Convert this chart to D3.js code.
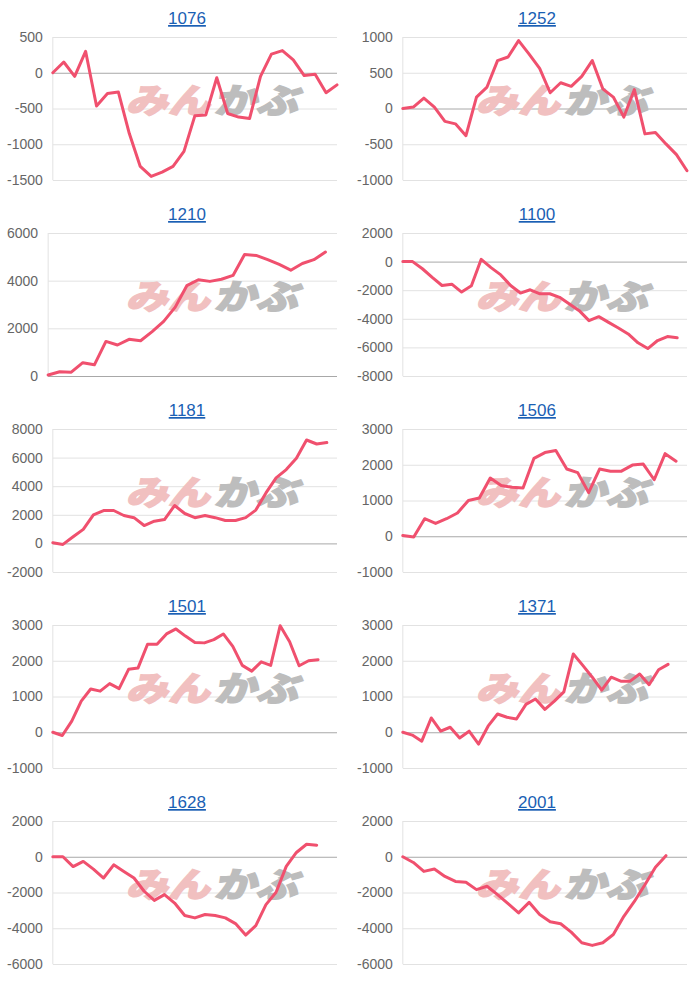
<!DOCTYPE html>
<html><head><meta charset="utf-8">
<script src="https://cdn.jsdelivr.net/npm/d3@7"></script>
<style>
html,body{margin:0;padding:0;background:#fff;}
svg{display:block;}
</style></head>
<body>
<svg id="chart" width="700" height="981"></svg>
<script>
// ---- data ----
const codes = ["1076","1252","1210","1100","1181","1506","1501","1371","1628","2001"];
const labelCounts = [27, 28, 26, 30, 29, 27, 31, 31, 29, 28];

const s1076 = [0,150,-50,300,-465,-290,-270,-850,-1310,-1450,-1390,-1310,-1100,-600,-590,-70,-570,-620,-640,-50,260,310,180,-40,-20,-280,-170];
const s1252 = [0,20,145,20,-180,-215,-380,160,300,670,720,950,760,560,220,360,310,450,670,275,160,-120,265,-355,-335,-495,-645,-870];
const s1210 = [40,180,160,560,470,1450,1300,1540,1480,1860,2290,2890,3790,4040,3970,4060,4220,5100,5060,4880,4680,4440,4720,4880,5200];
const s1100 = [0,0,-500,-1100,-1670,-1580,-2130,-1690,160,-420,-930,-1670,-2200,-1970,-2250,-2250,-2500,-2970,-3430,-4130,-3850,-4250,-4640,-5060,-5680,-6080,-5520,-5240,-5330];
const s1181 = [50,-70,460,980,2000,2300,2300,1950,1800,1250,1550,1670,2650,2090,1800,1950,1800,1600,1600,1800,2330,3530,4580,5160,5950,7230,6950,7050];
const s1506 = [20,-20,490,360,490,650,1000,1070,1630,1420,1370,1350,2180,2340,2400,1880,1780,1220,1880,1820,1820,1990,2020,1580,2310,2100];
const s1501 = [0,-90,310,870,1210,1150,1360,1220,1760,1800,2460,2460,2750,2890,2690,2510,2500,2590,2750,2400,1870,1710,1970,1870,2980,2530,1860,2000,2030];
const s1371 = [0,-80,-250,400,30,140,-160,30,-330,170,510,420,370,780,930,640,870,1130,2190,1870,1540,1180,1540,1430,1430,1630,1330,1750,1900];
const s1628 = [0,0,-550,-260,-690,-1190,-450,-820,-1190,-1930,-2440,-2120,-2590,-3290,-3420,-3230,-3290,-3420,-3740,-4380,-3850,-2680,-1990,-540,240,700,650];
const s2001 = [0,-320,-820,-690,-1100,-1380,-1430,-1840,-1650,-2120,-2620,-3140,-2550,-3230,-3640,-3750,-4220,-4810,-4960,-4810,-4350,-3330,-2500,-1570,-590,60];

const t1076 = [-1500,-1000,-500,0,500];
const t1252 = [-1000,-500,0,500,1000];
const t1210 = [0,2000,4000,6000];
const t1100 = [-8000,-6000,-4000,-2000,0,2000];
const t1181 = [-2000,0,2000,4000,6000,8000];
const t1506 = [-1000,0,1000,2000,3000];
const t1501 = [-1000,0,1000,2000,3000];
const t1371 = [-1000,0,1000,2000,3000];
const t1628 = [-6000,-4000,-2000,0,2000];
const t2001 = [-6000,-4000,-2000,0,2000];

const seriesList = [s1076,s1252,s1210,s1100,s1181,s1506,s1501,s1371,s1628,s2001];
const tickList = [t1076,t1252,t1210,t1100,t1181,t1506,t1501,t1371,t1628,t2001];

// ---- layout ----
const svg = d3.select("#chart");
const FONT = "'Liberation Sans', Arial, Helvetica, sans-serif";
const cellW = 350, cellH = 196;
const LINE = "#f0506e";
const fmt = d => String(d);

function textWidth(str, size){
  const t = svg.append("text").attr("font-family", FONT).attr("font-size", size).text(str);
  const w = t.node().getComputedTextLength();
  t.remove();
  return w;
}

codes.forEach((code, i) => {
  const col = i % 2, row = Math.floor(i / 2);
  const cx = col * cellW, cy = row * cellH;
  const data = seriesList[i], ticks = tickList[i], n = labelCounts[i];
  const g = svg.append("g");

  // title
  g.append("text")
    .attr("x", cx + 187).attr("y", cy + 24)
    .attr("text-anchor", "middle")
    .attr("font-family", FONT).attr("font-size", 17)
    .attr("fill", "#1a5fb4")
    .style("text-decoration", "underline")
    .text(code);

  const maxW = d3.max(ticks, t => textWidth(fmt(t), 14));
  const left = cx + 7 + maxW + 10;
  const right = cx + 337;
  const top = cy + 37, bottom = cy + 180;

  const x = d3.scaleLinear().domain([0, n - 1]).range([left, right]);
  const y = d3.scaleLinear().domain(d3.extent(ticks)).range([bottom, top]);

  // grid + y axis
  const ax = g.append("g").attr("transform", `translate(${left},0)`)
    .call(d3.axisLeft(y).tickValues(ticks).tickSize(-(right - left)).tickPadding(10).tickFormat(fmt));
  ax.select(".domain").remove();
  ax.selectAll(".tick line").attr("stroke", d => d === 0 ? "#a8a8a8" : "#e2e2e2").attr("stroke-width", 1);
  ax.selectAll(".tick text").attr("font-family", FONT).attr("font-size", 14).attr("fill", "#666");
  // left axis line
  g.append("line").attr("x1", left).attr("x2", left).attr("y1", top).attr("y2", bottom)
    .attr("stroke", "#e2e2e2");

  // watermark
  const wm = g.append("g").attr("transform", `translate(${cx + 118},${cy + 113}) skewX(-14)`);
  wm.append("text").attr("x", 8).attr("y", 0)
    .attr("font-family", "'Noto Sans CJK JP', sans-serif").attr("font-weight", 900)
    .attr("font-size", 34).attr("fill", "#f1c0c0").attr("stroke", "#f1c0c0").attr("stroke-width", 1.5)
    .attr("textLength", 84).attr("lengthAdjust", "spacingAndGlyphs")
    .text("みん");
  wm.append("text").attr("x", 96).attr("y", 0)
    .attr("font-family", "'Noto Sans CJK JP', sans-serif").attr("font-weight", 900)
    .attr("font-size", 34).attr("fill", "#bdbdbd").attr("stroke", "#bdbdbd").attr("stroke-width", 1.5)
    .attr("textLength", 84).attr("lengthAdjust", "spacingAndGlyphs")
    .text("かぶ");

  // line
  const line = d3.line().x((d, j) => x(j)).y(d => y(d));
  g.append("path").datum(data)
    .attr("d", line)
    .attr("fill", "none").attr("stroke", LINE).attr("stroke-width", 3)
    .attr("stroke-linejoin", "round").attr("stroke-linecap", "round");
});
</script>
</body></html>
